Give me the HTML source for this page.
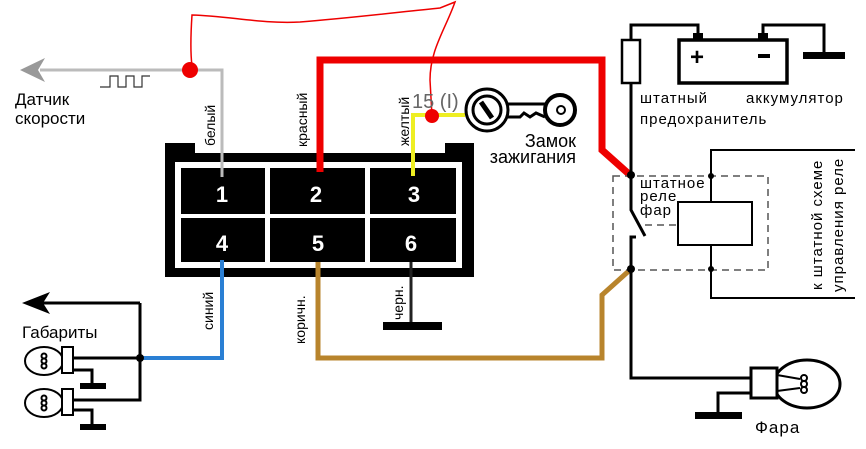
<!DOCTYPE html>
<html><head><meta charset="utf-8"><style>
html,body{margin:0;padding:0;background:#fff;}
svg{display:block}
text{font-family:"Liberation Sans","DejaVu Sans",sans-serif;}
</style></head><body>
<svg width="866" height="449" viewBox="0 0 866 449" xmlns="http://www.w3.org/2000/svg">
<!-- connector -->
<path d="M165 143 H195 V153 H445 V143 H474 V277 H165 Z" fill="#000"/>
<rect x="175" y="162" width="287" height="106" fill="#fff"/>
<g fill="#000">
<rect x="181" y="168" width="84" height="46"/><rect x="270" y="168" width="95" height="46"/><rect x="370" y="168" width="86" height="46"/>
<rect x="181" y="218" width="84" height="44"/><rect x="270" y="218" width="95" height="44"/><rect x="370" y="218" width="86" height="44"/>
</g>
<g fill="#fff" font-weight="bold" font-size="22" text-anchor="middle" font-family="DejaVu Sans, sans-serif">
<text x="222" y="202">1</text><text x="316" y="202">2</text><text x="414" y="202">3</text>
<text x="222" y="251">4</text><text x="318" y="251">5</text><text x="411" y="251">6</text>
</g>
<!-- wires -->
<polyline points="222,177 222,70 40,70" fill="none" stroke="#bbb" stroke-width="3"/>
<path d="M20 70 L45 58 L38 70 L45 82 Z" fill="#999"/>
<polyline points="100,87 110,87 110,76 118,76 118,87 126,87 126,76 134,76 134,87 142,87 142,76 150,76" fill="none" stroke="#333" stroke-width="1.2"/>
<polyline points="320,172 320,60 602,60 602,150 630,175" fill="none" stroke="#e00" stroke-width="7" stroke-linejoin="miter"/>
<polyline points="413,176 413,115 465,115" fill="none" stroke="#ee2" stroke-width="4"/>
<polyline points="318,262 318,358 602,358 602,295 631,269" fill="none" stroke="#b8842c" stroke-width="5"/>
<polyline points="222,260 222,358 140,358" fill="none" stroke="#2a7fd4" stroke-width="4"/>
<line x1="411" y1="262" x2="411" y2="326" stroke="#222" stroke-width="3"/>
<rect x="383" y="322" width="59" height="8" fill="#000"/>
<!-- thin red -->
<path d="M192 66 C190 50 191 30 192 15 C230 16 260 24 300 22 C350 18 400 12 440 8 L455 2 C445 30 430 50 430 80 L432 116" fill="none" stroke="#e00" stroke-width="1.5"/>
<circle cx="190" cy="70" r="8" fill="#e00"/>
<circle cx="432" cy="116" r="7" fill="#e00"/>
<!-- key -->
<circle cx="487" cy="110" r="21" fill="#fff" stroke="#000" stroke-width="3"/>
<circle cx="487" cy="110" r="14" fill="none" stroke="#000" stroke-width="3"/>
<line x1="481" y1="102" x2="492" y2="118" stroke="#000" stroke-width="5"/>
<path d="M507 104 H545 M507 117 L520 117 L524 113 L530 117 L536 113 L545 117" fill="none" stroke="#000" stroke-width="3"/>
<circle cx="560" cy="110" r="15" fill="#fff" stroke="#000" stroke-width="4"/>
<circle cx="561" cy="110" r="4" fill="none" stroke="#000" stroke-width="2"/>
<text x="412" y="108" font-size="20" fill="#666">15 (I)</text>
<text x="576" y="147" font-size="18" text-anchor="end">Замок</text>
<text x="576" y="163" font-size="18" text-anchor="end">зажигания</text>
<text x="15" y="105" font-size="17">Датчик</text>
<text x="15" y="124" font-size="17">скорости</text>
<text x="22" y="338" font-size="17">Габариты</text>
<!-- vertical labels -->
<g font-size="14">
<text transform="translate(215,146) rotate(-90)">белый</text>
<text transform="translate(307,147) rotate(-90)">красный</text>
<text transform="translate(409,146) rotate(-90)">желтый</text>
<text transform="translate(213,330) rotate(-90)">синий</text>
<text transform="translate(305,344) rotate(-90)">коричн.</text>
<text transform="translate(403,320) rotate(-90)">черн.</text>
</g>
<!-- right side -->
<g fill="none" stroke="#000" stroke-width="3">
<polyline points="698,37 698,25 631,25 631,210 645,236"/>
<polyline points="636,237 631,237 631,378 752,378"/>
<polyline points="763,37 763,25 824,25 824,55"/>
<polyline points="718,415 718,393 752,393"/>
</g>
<rect x="622" y="40" width="18" height="43" fill="#fff" stroke="#000" stroke-width="2.5"/>
<rect x="679" y="40" width="108" height="43" fill="#fff" stroke="#000" stroke-width="3.5"/>
<rect x="693" y="33" width="10" height="6" fill="#000"/><rect x="758" y="33" width="10" height="6" fill="#000"/>
<text x="690" y="65" font-size="24" font-weight="bold">+</text>
<rect x="758" y="54" width="12" height="4" fill="#000"/>
<rect x="803" y="52" width="42" height="7" fill="#000"/>
<g font-size="15" letter-spacing="1">
<text x="640" y="103">штатный</text><text x="746" y="103">аккумулятор</text>
<text x="640" y="124">предохранитель</text>
<text x="640" y="188">штатное</text><text x="640" y="201">реле</text><text x="640" y="215">фар</text>
<text transform="translate(822,290) rotate(-90)">к штатной схеме</text>
<text transform="translate(843,292) rotate(-90)">управления реле</text>
</g>
<rect x="613" y="176" width="155" height="94" fill="none" stroke="#555" stroke-width="1.5" stroke-dasharray="7,5"/>
<line x1="645" y1="225" x2="678" y2="225" stroke="#555" stroke-width="1.5" stroke-dasharray="7,5"/>
<polyline points="855,150 711,150 711,298 855,298" fill="none" stroke="#000" stroke-width="2"/>
<rect x="678" y="202" width="74" height="43" fill="#fff" stroke="#000" stroke-width="2"/>
<g fill="#000"><circle cx="631" cy="175" r="4"/><circle cx="631" cy="269" r="4"/><circle cx="711" cy="176" r="3"/><circle cx="711" cy="269" r="3"/></g>
<!-- headlamp -->
<ellipse cx="807" cy="384" rx="33" ry="24" fill="#fff" stroke="#000" stroke-width="3"/>
<rect x="751" y="368" width="26" height="30" fill="#fff" stroke="#000" stroke-width="3"/>
<path d="M777 375 L800 379 M777 391 L800 388" stroke="#000" stroke-width="2"/>
<circle cx="804" cy="378" r="3" fill="none" stroke="#000" stroke-width="2"/><circle cx="804" cy="384" r="3" fill="none" stroke="#000" stroke-width="2"/><circle cx="804" cy="390" r="3" fill="none" stroke="#000" stroke-width="2"/>
<rect x="695" y="412" width="47" height="7" fill="#000"/>
<text x="755" y="433" font-size="17" letter-spacing="1">Фара</text>
<!-- parking lamps -->
<g fill="none" stroke="#000" stroke-width="3">
<polyline points="140,303 140,400 73,400"/>
<line x1="73" y1="358" x2="140" y2="358"/>
<polyline points="73,370 92,370 92,386"/>
<polyline points="73,410 92,410 92,427"/>
<line x1="140" y1="303" x2="40" y2="303"/>
</g>
<path d="M22 303 L50 292 L43 303 L50 314 Z" fill="#000"/>
<circle cx="140" cy="358" r="4" fill="#000"/>
<g stroke="#000" stroke-width="2" fill="#fff">
<ellipse cx="44" cy="361" rx="19" ry="14"/><rect x="62" y="347" width="11" height="26"/>
<ellipse cx="44" cy="403" rx="19" ry="14"/><rect x="62" y="389" width="11" height="26"/>
<circle cx="44" cy="356" r="2.5"/><circle cx="44" cy="361" r="2.5"/><circle cx="44" cy="366" r="2.5"/>
<circle cx="44" cy="398" r="2.5"/><circle cx="44" cy="403" r="2.5"/><circle cx="44" cy="408" r="2.5"/>
</g>
<rect x="80" y="383" width="26" height="6" fill="#000"/>
<rect x="80" y="424" width="26" height="6" fill="#000"/>
</svg>
</body></html>
